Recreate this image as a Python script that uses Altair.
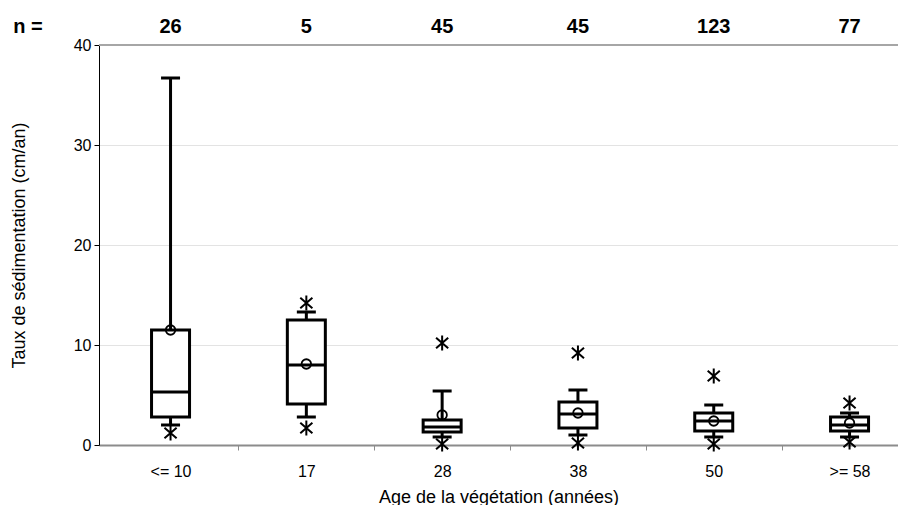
import altair as alt
import pandas as pd

# ---- data ----
categories = ["<= 10", "17", "28", "38", "50", ">= 58"]
n_counts = [26, 5, 45, 45, 123, 77]
q1 = [2.8, 4.1, 1.3, 1.7, 1.4, 1.4]
median = [5.3, 8.0, 1.8, 3.1, 2.4, 2.0]
q3 = [11.5, 12.5, 2.5, 4.3, 3.2, 2.8]
mean = [11.5, 8.1, 3.0, 3.2, 2.4, 2.2]
whisker_low = [2.0, 2.8, 0.8, 1.0, 0.8, 0.8]
whisker_high = [36.7, 13.3, 5.4, 5.5, 4.0, 3.2]
extreme_low = [1.2, 1.7, 0.1, 0.2, 0.1, 0.3]
extreme_high = [None, 14.2, 10.2, 9.2, 6.9, 4.2]

pos = [i + 0.5 for i in range(len(categories))]
df = pd.DataFrame({
    "pos": pos, "cat": categories, "n": [str(v) for v in n_counts],
    "q1": q1, "med": median, "q3": q3, "mean": mean,
    "wlo": whisker_low, "whi": whisker_high,
})
ext = pd.DataFrame({
    "pos": pos + pos,
    "v": extreme_low + extreme_high,
}).dropna()

FONT = "Liberation Sans"
label_arr = "[" + ",".join("'" + c + "'" for c in categories) + "]"

x_scale = alt.Scale(domain=[0.01, 5.82], nice=False, zero=False)
y_scale = alt.Scale(domain=[0, 40], nice=False)

x_axis = alt.Axis(
    values=[i * 0.5 for i in range(1, 12)],
    labelExpr=f"(datum.value % 1 != 0) ? {label_arr}[floor(datum.value)] : ''",
    tickOpacity={"condition": {"test": "datum.value % 1 == 0", "value": 1}, "value": 0},
    grid=False, domainColor="#8c8c8c", domainWidth=2, tickColor="#8c8c8c",
    tickSize=5, tickWidth=1, labelPadding=13, labelFontSize=16, labelFont=FONT,
    labelColor="black", title="Age de la végétation (années)", titleFontSize=18,
    titleFont=FONT, titleFontWeight="normal", titleColor="black", titlePadding=9,
    labelFlush=False, labelOverlap=False,
)
y_axis = alt.Axis(
    values=[0, 10, 20, 30, 40], grid=True, gridColor="#e3e3e3", gridWidth=1,
    domainColor="black", domainWidth=1, tickColor="black", tickSize=5,
    labelFontSize=16, labelFont=FONT, labelColor="black", labelPadding=3,
    title="Taux de sédimentation (cm/an)", titleFontSize=18, titleFont=FONT,
    titleFontWeight="normal", titleColor="black", titlePadding=45,
)

base = alt.Chart(df)

top_line = alt.Chart(pd.DataFrame({"v": [40]})).mark_rule(
    color="#a6a6a6", strokeWidth=2
).encode(y=alt.Y("v:Q", scale=y_scale, axis=y_axis))

whisk_hi = base.mark_rule(color="black", strokeWidth=3).encode(
    x=alt.X("pos:Q", scale=x_scale, axis=x_axis),
    y=alt.Y("q3:Q", scale=y_scale), y2="whi:Q")
whisk_lo = base.mark_rule(color="black", strokeWidth=3).encode(
    x=alt.X("pos:Q", scale=x_scale), y=alt.Y("wlo:Q", scale=y_scale), y2="q1:Q")

boxes = base.mark_bar(fill="white", stroke="black", strokeWidth=3, size=38).encode(
    x=alt.X("pos:Q", scale=x_scale), y=alt.Y("q1:Q", scale=y_scale), y2="q3:Q")

med_tick = base.mark_tick(orient="horizontal", size=38, thickness=3, color="black",
                          opacity=1).encode(
    x=alt.X("pos:Q", scale=x_scale), y=alt.Y("med:Q", scale=y_scale))
cap_hi = base.mark_tick(orient="horizontal", size=19, thickness=3, color="black",
                        opacity=1).encode(
    x=alt.X("pos:Q", scale=x_scale), y=alt.Y("whi:Q", scale=y_scale))
cap_lo = base.mark_tick(orient="horizontal", size=19, thickness=3, color="black",
                        opacity=1).encode(
    x=alt.X("pos:Q", scale=x_scale), y=alt.Y("wlo:Q", scale=y_scale))

mean_pt = base.mark_point(shape="circle", size=90, filled=False, color="black",
                          strokeWidth=1.8, opacity=1).encode(
    x=alt.X("pos:Q", scale=x_scale), y=alt.Y("mean:Q", scale=y_scale))

star = "M0,-1L0,1M-0.8,-0.7L0.8,0.7M-0.8,0.7L0.8,-0.7"
ext_pt = alt.Chart(ext).mark_point(shape=star, size=230, filled=False, color="black",
                                   strokeWidth=2, opacity=1).encode(
    x=alt.X("pos:Q", scale=x_scale), y=alt.Y("v:Q", scale=y_scale))

n_text = base.mark_text(fontSize=20, fontWeight="bold", font=FONT, color="black",
                        baseline="middle").encode(
    x=alt.X("pos:Q", scale=x_scale), y=alt.value(-18), text="n:N")
n_label = alt.Chart(pd.DataFrame({"t": ["n ="]})).mark_text(
    fontSize=20, fontWeight="bold", font=FONT, color="black", baseline="middle",
    align="center").encode(x=alt.value(-71), y=alt.value(-18), text="t:N")

chart = alt.layer(
    top_line, whisk_hi, whisk_lo, boxes, med_tick, cap_hi, cap_lo, mean_pt, ext_pt,
    n_text, n_label,
).properties(
    width=799, height=400,
    autosize=alt.AutoSizeParams(type="none"),
    padding={"left": 91, "top": 37, "right": 0, "bottom": 60},
).configure_view(stroke=None).configure(background="white")

chart.save("out.html", embed_options={"renderer": "svg", "actions": False})
